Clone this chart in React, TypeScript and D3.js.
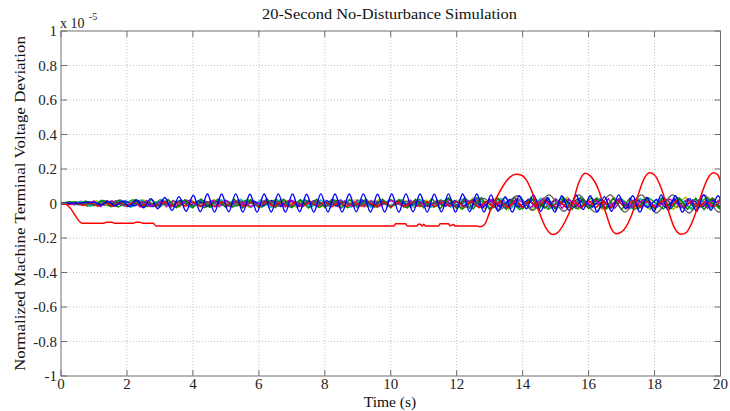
import React from "react";
import * as d3 from "d3";

// ---------- DATA (values in units of 1e-5) ----------
const xTicks = [0, 2, 4, 6, 8, 10, 12, 14, 16, 18, 20];
const yTicks = [-1, -0.8, -0.6, -0.4, -0.2, 0, 0.2, 0.4, 0.6, 0.8, 1];

// main red trace (time, value)
const redT = [0,0.15,0.25,0.65,1.3,1.38,1.55,1.62,2.2,2.27,2.4,2.47,2.8,2.88,10.1,10.15,10.45,10.5,10.8,10.83,10.9,10.95,11.0,11.05,11.45,11.5,11.75,11.8,11.9,11.95,12.0,12.6,12.7,12.85,13.0,13.2,13.4,13.6,13.8,13.95,14.1,14.3,14.5,14.7,14.9,15.05,15.3,15.5,15.7,15.9,16.05,16.3,16.5,16.7,16.85,17.0,17.3,17.5,17.7,17.85,18.0,18.2,18.4,18.6,18.8,18.95,19.2,19.4,19.6,19.78,19.9,20.0];
const redV = [0,-0.005,-0.02,-0.115,-0.115,-0.108,-0.108,-0.115,-0.115,-0.108,-0.108,-0.115,-0.115,-0.13,-0.13,-0.118,-0.118,-0.13,-0.13,-0.12,-0.12,-0.13,-0.12,-0.13,-0.13,-0.118,-0.118,-0.13,-0.122,-0.13,-0.13,-0.13,-0.135,-0.12,-0.05,0.03,0.1,0.15,0.17,0.165,0.14,0.06,-0.05,-0.14,-0.18,-0.17,-0.1,-0.01,0.12,0.175,0.16,0.08,-0.04,-0.15,-0.175,-0.165,-0.07,0.05,0.15,0.178,0.165,0.09,-0.03,-0.14,-0.178,-0.17,-0.08,0.04,0.14,0.178,0.17,0.13];

// blue oscillation: extremes every half period starting at t = 1.0
const blueStart = 1.0;
const blueHalfPeriod = 0.215;
const blueV = [0.008,-0.01,0.012,-0.015,0.015,-0.018,0.02,-0.025,0.028,-0.03,0.035,-0.04,0.04,-0.045,0.048,
  -0.048,0.055,-0.05,0.055,-0.048,0.056,-0.05,0.054,-0.05,0.055,-0.049,0.056,-0.05,0.055,-0.048,0.054,-0.05,0.056,-0.049,0.055,-0.05,0.055,-0.048,0.056,-0.05,0.054,-0.049,0.055,-0.05,0.056,-0.048,0.055,-0.05,0.054,-0.049,0.056,-0.05,0.055,-0.048,0.055,-0.05,
  0.05,-0.045,0.04,-0.05,0.045,-0.03,0.05,-0.045,0.035,-0.05,0.045,-0.04,0.05,-0.035,0.045,-0.05,0.04,-0.045,0.05,-0.03,0.045,-0.05,0.035,-0.045,0.05,-0.04,0.045,-0.05,0.03,-0.045,0.05,-0.04,0.045,-0.05];

// grey trace (time, value)
const greyT = [0,0.5,1,1.5,2,2.5,3,3.5,4,4.5,5,5.5,6,6.5,7,7.5,8,8.5,9,9.5,10,10.5,11,11.5,12,12.35,12.8,13.3,13.85,14.3,14.8,15.25,15.7,16.2,16.65,17.1,17.6,18.05,18.55,19.05,19.5,19.95,20];
const greyV = [0,0.006,-0.008,0.01,-0.012,0.011,-0.01,0.013,-0.012,0.01,-0.013,0.012,-0.011,0.013,-0.012,0.01,-0.013,0.012,-0.011,0.013,-0.012,0.014,-0.015,0.016,-0.018,-0.02,0.03,-0.035,0.045,-0.04,0.05,-0.045,0.05,-0.05,0.05,-0.05,0.05,-0.055,0.05,-0.055,0.05,-0.05,-0.045];

// small-amplitude traces, evenly sampled over 0..20 s
const greenV = [0,0.01,-0.006,0.014,-0.012,0.018,-0.016,0.02,-0.018,0.022,-0.02,0.024,-0.021,0.023,-0.025,0.022,-0.024,0.026,-0.022,0.025,-0.023,0.024,-0.026,0.022,-0.025,0.026,-0.023,0.024,-0.025,0.022,-0.026,0.025,-0.022,0.024,-0.026,0.023,-0.025,0.026,-0.022,0.024,-0.025,0.023,-0.026,0.025,-0.024,0.028,-0.03,0.032,-0.029,0.034,-0.031,0.033,-0.035,0.03,-0.033,0.035,-0.031,0.034,-0.032,0.033,-0.035,0.031,-0.034,0.035,-0.03,0.033,-0.034,0.032,-0.035,0.031,-0.033,0.034,-0.032,0.035,-0.03,0.033,-0.034,0.031,-0.035,0.032,-0.03];
const cyanV = [0,-0.008,0.012,-0.015,0.018,-0.02,0.019,-0.022,0.021,-0.02,0.023,-0.021,0.022,-0.024,0.02,-0.023,0.022,-0.021,0.024,-0.022,0.021,-0.023,0.024,-0.02,0.022,-0.024,0.021,-0.022,0.023,-0.021,0.024,-0.022,0.02,-0.023,0.022,-0.024,0.021,-0.023,0.022,-0.02,0.026,-0.028,0.03,-0.027,0.029,-0.03,0.028,-0.029,0.03,-0.027,0.029,-0.028,0.03,-0.029,0.027,-0.03,0.028,-0.027,0.029,-0.03,0.028,-0.029,0.027,-0.03,0.029,-0.028,0.027];
const magentaV = [0,0.006,-0.009,0.012,-0.015,0.014,-0.018,0.016,-0.015,0.019,-0.018,0.015,-0.02,0.018,-0.016,0.02,-0.019,0.018,-0.015,0.02,-0.018,0.019,-0.02,0.016,-0.019,0.018,-0.02,0.019,-0.015,0.018,-0.019,0.02,-0.018,0.016,-0.02,0.019,-0.018,0.02,-0.016,0.019,-0.018,0.02,-0.019,0.015,-0.018,0.02,-0.019,0.018,-0.02,0.016,-0.019,0.018,-0.02,0.019,-0.016,0.018,-0.02,0.019,-0.018,0.024,-0.026,0.025,-0.028,0.026,-0.024,0.027,-0.028,0.025,-0.027,0.028,-0.026,0.025,-0.028,0.027,-0.025,0.026,-0.028,0.027,-0.026,0.028,-0.025,0.027,-0.026,0.028,-0.027,0.025,-0.028,0.026,-0.027,0.028,-0.025,0.026,-0.028,0.027,-0.026,0.025,-0.027,0.028,-0.026,0.027,-0.025];
const yellowV = [0,0.008,-0.012,0.016,-0.015,0.02,-0.018,0.022,-0.019,0.017,-0.022,0.02,-0.018,0.023,-0.02,0.019,-0.023,0.022,-0.018,0.021,-0.023,0.019,-0.022,0.023,-0.019,0.022,-0.02,0.023,-0.018,0.022,-0.023,0.02,-0.019,0.028,-0.032,0.034,-0.03,0.036,-0.033,0.031,-0.036,0.034,-0.032,0.036,-0.034,0.033,-0.036,0.035,-0.032,0.034,-0.036,0.033,-0.035,0.036,-0.032,0.034,-0.033];
const red2V = [0,-0.006,0.005,-0.012,0.006,-0.015,0.009,-0.017,0.008,-0.016,0.01,-0.018,0.009,-0.017,0.011,-0.019,0.008,-0.017,0.01,-0.018,0.009,-0.019,0.011,-0.017,0.008,-0.018,0.01,-0.019,0.009,-0.017,0.011,-0.018,0.008,-0.019,0.01,-0.017,0.009,-0.018,0.011,-0.019,0.008,-0.017,0.01,-0.018,0.009,-0.019,0.011,-0.017,0.008,-0.018,0.01,-0.019,0.009,-0.017,0.014,-0.022,0.016,-0.024,0.014,-0.023,0.017,-0.024,0.015,-0.022,0.016,-0.024,0.017,-0.023,0.015,-0.024,0.016,-0.022,0.017,-0.024,0.015,-0.023,0.016,-0.024,0.017,-0.022,0.015,-0.023,0.016,-0.024,0.017,-0.022,0.015,-0.023,0.016,-0.024,0.016];
const blue2V = [0,0.004,-0.007,0.01,-0.013,0.014,-0.012,0.016,-0.014,0.013,-0.017,0.015,-0.016,0.017,-0.013,0.016,-0.017,0.014,-0.016,0.013,-0.017,0.016,-0.014,0.017,-0.013,0.016,-0.017,0.014,-0.016,0.017,-0.014,0.013,-0.016,0.017,-0.014,0.016,-0.013,0.017,-0.016,0.014,-0.017,0.013,-0.016,0.017,-0.014,0.022,-0.024,0.021,-0.023,0.024,-0.022,0.023,-0.024,0.021,-0.023,0.024,-0.022,0.023,-0.021,0.024,-0.023,0.022,-0.024,0.021,-0.023,0.024,-0.022,0.023,-0.024,0.021,-0.022,0.023,-0.021];
const black2V = [0,0.006,-0.009,0.013,-0.012,0.016,-0.014,0.017,-0.016,0.014,-0.017,0.016,-0.014,0.017,-0.016,0.018,-0.014,0.017,-0.016,0.014,-0.018,0.017,-0.014,0.016,-0.017,0.018,-0.016,0.014,-0.017,0.016,-0.018,0.017,-0.014,0.016,-0.017,0.014,-0.016,0.017,-0.018,0.016,-0.017,0.024,-0.026,0.025,-0.027,0.026,-0.024,0.027,-0.025,0.026,-0.027,0.024,-0.026,0.025,-0.027,0.026,-0.024,0.025,-0.026,0.027,-0.025];
const green2V = [0,0.01,-0.014,0.018,-0.02,0.022,-0.019,0.023,-0.021,0.02,-0.024,0.022,-0.02,0.023,-0.022,0.024,-0.02,0.022,-0.023,0.021,-0.024,0.022,-0.02,0.023,-0.022,0.024,-0.021,0.03,-0.032,0.034,-0.031,0.033,-0.035,0.032,-0.034,0.035,-0.031,0.033,-0.034,0.032,-0.035,0.033,-0.031,0.034,-0.033,0.032,-0.034];
const magenta2V = [0,-0.005,0.01,-0.014,0.016,-0.015,0.018,-0.017,0.016,-0.018,0.017,-0.015,0.018,-0.016,0.017,-0.018,0.015,-0.017,0.018,-0.016,0.017,-0.015,0.018,-0.017,0.016,-0.018,0.017,-0.016,0.018,-0.015,0.017,-0.018,0.022,-0.024,0.023,-0.025,0.024,-0.022,0.025,-0.023,0.024,-0.025,0.022,-0.024,0.025,-0.023,0.024,-0.022,0.025,-0.024,0.023,-0.025,0.024];

const noiseSeries = [
  { name: "black2", values: black2V, color: "#404040" },
  { name: "yellow", values: yellowV, color: "#bfbf00" },
  { name: "magenta", values: magentaV, color: "#bf00bf" },
  { name: "green2", values: green2V, color: "#00a000" },
  { name: "cyan", values: cyanV, color: "#00bfbf" },
  { name: "blue2", values: blue2V, color: "#0000ff" },
  { name: "magenta2", values: magenta2V, color: "#bf00bf" },
  { name: "green", values: greenV, color: "#008000" },
  { name: "red2", values: red2V, color: "#ff0000" },
];

const W = 730, H = 411;
const L = 61, R = 720.5, T = 31, B = 376;
const FONT = "'Liberation Serif', 'Times New Roman', serif";

export default function App() {
  const x = d3.scaleLinear().domain([0, 20]).range([L, R]);
  const y = d3.scaleLinear().domain([-1, 1]).range([B, T]);

  const linePts = d3.line<[number, number]>().x(d => x(d[0])).y(d => y(d[1]));
  const smooth = d3.line<[number, number]>().x(d => x(d[0])).y(d => y(d[1])).curve(d3.curveMonotoneX);

  const even = (vals: number[]) => vals.map((v, i) => [(i * 20) / (vals.length - 1), v] as [number, number]);
  const redPts = redT.map((t, i) => [t, redV[i]] as [number, number]);
  const greyPts = greyT.map((t, i) => [t, greyV[i]] as [number, number]);
  const bluePts: [number, number][] = [[0, 0], [0.5, 0.003], ...blueV.map((v, i) => [blueStart + i * blueHalfPeriod, v] as [number, number])];

  const axisColor = "#6e6e6e";
  const gridColor = "#c4c4c4";

  return (
    <svg width={W} height={H} style={{ position: "absolute", left: 0, top: 0, background: "#fff" }} fontFamily={FONT}>
      <defs>
        <clipPath id="plotClip">
          <rect x={L} y={T} width={R - L} height={B - T} />
        </clipPath>
      </defs>
      <rect x={0} y={0} width={W} height={H} fill="#fff" />
      {/* grid */}
      {xTicks.slice(1, -1).map(t => (
        <line key={"gx" + t} x1={x(t)} x2={x(t)} y1={T} y2={B} stroke={gridColor} strokeWidth={1} strokeDasharray="1,2" />
      ))}
      {yTicks.slice(1, -1).map(t => (
        <line key={"gy" + t} x1={L} x2={R} y1={y(t)} y2={y(t)} stroke={gridColor} strokeWidth={1} strokeDasharray="1,2" />
      ))}

      <g clipPath="url(#plotClip)" fill="none">
        {noiseSeries.map(s => (
          <path key={s.name} d={linePts(even(s.values)) || ""} stroke={s.color} strokeWidth={1.4} />
        ))}
        <path d={smooth(greyPts) || ""} stroke="#555555" strokeWidth={1.3} />
        <path d={smooth(bluePts) || ""} stroke="#0000ff" strokeWidth={1.4} />
        <path d={smooth(redPts) || ""} stroke="#ff0000" strokeWidth={1.5} />
      </g>

      {/* axes box */}
      <rect x={L} y={T} width={R - L} height={B - T} fill="none" stroke={axisColor} strokeWidth={1} />
      {xTicks.map(t => (
        <g key={"tx" + t}>
          <line x1={x(t)} x2={x(t)} y1={B} y2={B - 6} stroke={axisColor} />
          <line x1={x(t)} x2={x(t)} y1={T} y2={T + 6} stroke={axisColor} />
          <text x={x(t)} y={389} textAnchor="middle" fontSize={15} fill="#222">{String(t)}</text>
        </g>
      ))}
      {yTicks.map(t => (
        <g key={"ty" + t}>
          <line x1={L} x2={L + 6} y1={y(t)} y2={y(t)} stroke={axisColor} />
          <line x1={R} x2={R - 6} y1={y(t)} y2={y(t)} stroke={axisColor} />
          <text x={57} y={y(t)} dy="0.35em" textAnchor="end" fontSize={15} fill="#222">
            {String(Math.round(t * 10) / 10)}
          </text>
        </g>
      ))}

      {/* exponent */}
      <text x={60} y={28} fontSize={14} fill="#222">x 10</text>
      <text x={89} y={20} fontSize={10} fill="#222">-5</text>

      {/* title and labels */}
      <text x={389.5} y={19} textAnchor="middle" fontSize={15.5} fill="#111" textLength={255} lengthAdjust="spacingAndGlyphs">
        20-Second No-Disturbance Simulation
      </text>
      <text x={390} y={407} textAnchor="middle" fontSize={15.5} fill="#111">Time (s)</text>
      <text transform={`translate(25, ${(T + B) / 2}) rotate(-90)`} textAnchor="middle" fontSize={15.5} fill="#111"
        textLength={335} lengthAdjust="spacingAndGlyphs">
        Normalized Machine Terminal Voltage Deviation
      </text>
    </svg>
  );
}
